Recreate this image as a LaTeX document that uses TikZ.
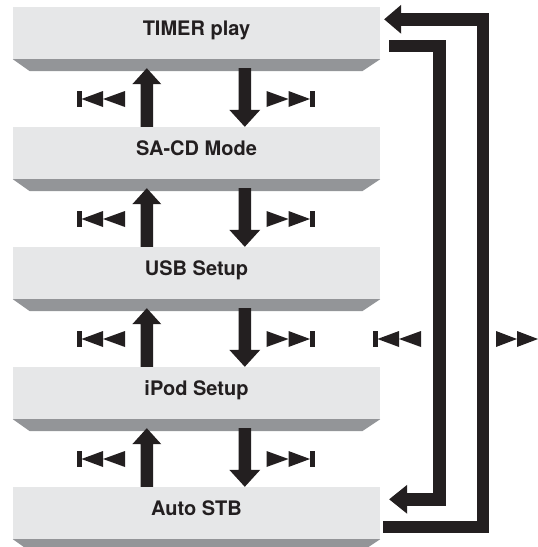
\documentclass[tikz,border=0pt]{standalone}
\usepackage{fontspec}
\setmainfont{TeX Gyre Heros}
\usetikzlibrary{calc}
\definecolor{boxc}{HTML}{E6E7E8}
\definecolor{shadc}{HTML}{939598}
\definecolor{inkc}{HTML}{231F20}
\newcommand\myUp[2]{\fill[inkc] let \p1=(#1.south west),\p2=(#2.north west) in
 (\x1+127.7pt,\y2) -- (\x1+127.7pt,\y1-25pt) -- (\x1+119.5pt,\y1-25pt) -- (\x1+134pt,\y1-9pt) -- (\x1+148.5pt,\y1-25pt) -- (\x1+140.3pt,\y1-25pt) -- (\x1+140.3pt,\y2) -- cycle;}
\newcommand\myDown[2]{\fill[inkc] let \p1=(#1.south west),\p2=(#2.north west) in
 (\x1+225.7pt,\y1-9pt) -- (\x1+225.7pt,\y2+17pt) -- (\x1+216.5pt,\y2+17pt) -- (\x1+232pt,\y2) -- (\x1+247.5pt,\y2+17pt) -- (\x1+238.3pt,\y2+17pt) -- (\x1+238.3pt,\y1-9pt) -- cycle;}
\begin{document}
\begin{tikzpicture}[x=1pt,y=-1pt,
  menubox/.style={fill=boxc, minimum width=367pt, minimum height=52pt, inner sep=0pt,
    text height=14pt, text depth=9pt, text=inkc, font=\fontsize{20}{21}\selectfont\bfseries},
  loopline/.style={draw=inkc, line width=12.5pt},
  pics/prevsym/.style={code={
    \fill[inkc] (-24,-8) rectangle (-19.5,8);
    \fill[inkc] (-19.5,0) -- (2,-8) -- (2,8) -- cycle;
    \fill[inkc] (2,0) -- (24,-8) -- (24,8) -- cycle;}},
  pics/nextsym/.style={code={
    \fill[inkc] (19.5,-8) rectangle (24,8);
    \fill[inkc] (19.5,0) -- (-2,-8) -- (-2,8) -- cycle;
    \fill[inkc] (-2,0) -- (-24,-8) -- (-24,8) -- cycle;}},
  pics/ffsym/.style={code={
    \fill[inkc] (0,0) -- (-21,-8) -- (-21,8) -- cycle;
    \fill[inkc] (21,0) -- (0,-8) -- (0,8) -- cycle;}}
]
\useasboundingbox (0,0) rectangle (538,547);
\node[menubox] (timer) at (196.5,33) {TIMER play};
\node[menubox] (sacd) at (196.5,153) {SA-CD Mode};
\node[menubox] (usb) at (196.5,273) {USB Setup};
\node[menubox] (ipod) at (196.5,393) {iPod Setup};
\node[menubox] (auto) at (196.5,513) {Auto STB};
\foreach \n in {timer,sacd,usb,ipod,auto}
  \fill[shadc] (\n.south west) -- (\n.south east) -- ($(\n.south east)+(-18,12)$) -- ($(\n.south west)+(17,12)$) -- cycle;
\myUp{timer}{sacd}
\myDown{timer}{sacd}
\myUp{sacd}{usb}
\myDown{sacd}{usb}
\myUp{usb}{ipod}
\myDown{usb}{ipod}
\myUp{ipod}{auto}
\myDown{ipod}{auto}
\pic (p1) at (101,99) {prevsym};
\pic (n1) at (290.5,99) {nextsym};
\pic (p2) at (101,219) {prevsym};
\pic (n2) at (290.5,219) {nextsym};
\pic (p3) at (101,339) {prevsym};
\pic (n3) at (290.5,339) {nextsym};
\pic (p4) at (101,459) {prevsym};
\pic (n4) at (290.5,459) {nextsym};
% outer loop: Auto STB -> TIMER play
\coordinate (oS) at ($(auto.north east)+(3,40)$);
\coordinate (oE) at ($(timer.north east)+(4,12.5)$);
\draw[loopline] (oS) -| ($(oE)+(99,0)$) -- ($(oE)+(16,0)$);
\fill[inkc] (oE) -- ($(oE)+(17,-14.5)$) -- ($(oE)+(17,14.5)$) -- cycle;
% inner loop: TIMER play -> Auto STB
\coordinate (iS) at ($(timer.north east)+(9,39)$);
\coordinate (iE) at ($(auto.north east)+(9,12.5)$);
\draw[loopline] (iS) -| ($(iE)+(50.5,0)$) -- ($(iE)+(17,0)$);
\fill[inkc] (iE) -- ($(iE)+(18,-14.5)$) -- ($(iE)+(18,14.5)$) -- cycle;
\pic (p5) at (397,339) {prevsym};
\pic (f5) at (517,339) {ffsym};
\end{tikzpicture}
\end{document}
